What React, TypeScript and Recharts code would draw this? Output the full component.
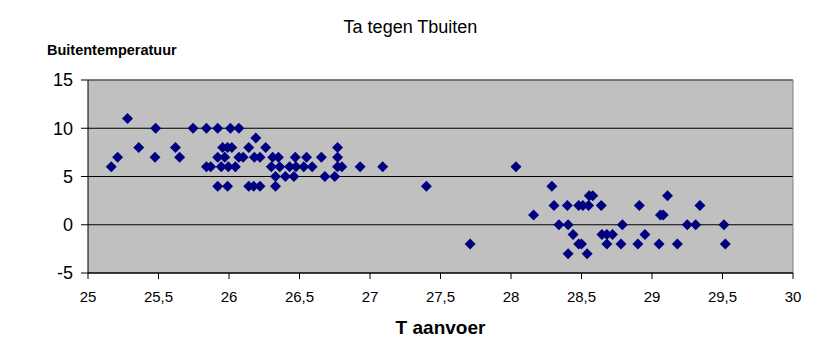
import React from 'react';
import { ScatterChart, Scatter, XAxis, YAxis, CartesianGrid, ReferenceLine } from 'recharts';

// T aanvoer (x) en buitentemperatuur (y)
const tAanvoer = [
  25.28,
  25.48, 25.745, 25.84, 25.92, 26.01, 26.07,
  26.19,
  25.36, 25.62, 25.955, 25.99, 26.02, 26.14, 26.26, 26.77,
  25.21, 25.475, 25.65, 25.92, 25.97, 26.07, 26.1, 26.18, 26.22, 26.31, 26.35, 26.47, 26.55, 26.655, 26.77,
  25.165, 25.84, 25.87, 25.945, 25.995, 26.045, 26.3, 26.36, 26.43, 26.475, 26.53, 26.59, 26.77, 26.8, 26.93, 27.09, 28.035,
  26.33, 26.4, 26.46, 26.68, 26.75,
  25.92, 25.99, 26.14, 26.175, 26.22, 26.33, 27.4, 28.29,
  28.555, 28.58, 29.11,
  28.305, 28.4, 28.48, 28.51, 28.55, 28.64, 28.91, 29.34,
  28.16, 29.06, 29.08,
  28.34, 28.405, 28.79, 29.25, 29.31, 29.51,
  28.44, 28.645, 28.68, 28.72, 28.95,
  27.71, 28.48, 28.5, 28.68, 28.78, 28.9, 29.05, 29.18, 29.52,
  28.405, 28.54,
];

const tBuiten = [
  11,
  10, 10, 10, 10, 10, 10,
  9,
  8, 8, 8, 8, 8, 8, 8, 8,
  7, 7, 7, 7, 7, 7, 7, 7, 7, 7, 7, 7, 7, 7, 7,
  6, 6, 6, 6, 6, 6, 6, 6, 6, 6, 6, 6, 6, 6, 6, 6, 6,
  5, 5, 5, 5, 5,
  4, 4, 4, 4, 4, 4, 4, 4,
  3, 3, 3,
  2, 2, 2, 2, 2, 2, 2, 2,
  1, 1, 1,
  0, 0, 0, 0, 0, 0,
  -1, -1, -1, -1, -1,
  -2, -2, -2, -2, -2, -2, -2, -2, -2,
  -3, -3,
];

const xTicks = [25, 25.5, 26, 26.5, 27, 27.5, 28, 28.5, 29, 29.5, 30];
const yTicks = [-5, 0, 5, 10, 15];

const data = tAanvoer.map((x, i) => ({ x, y: tBuiten[i] }));

const font = 'Arial, "Liberation Sans", sans-serif';

// ruitvormige marker zoals in Excel
const Diamond = (props: any) => {
  const { cx, cy } = props;
  const r = 5.5;
  return (
    <polygon
      points={`${cx},${cy - r} ${cx + r},${cy} ${cx},${cy + r} ${cx - r},${cy}`}
      fill="#000080"
    />
  );
};

const App = () => {
  return (
    <div style={{ position: 'absolute', left: 0, top: 0, width: 821, height: 347, background: '#fff', fontFamily: font }}>
      <div style={{ position: 'absolute', left: 0, top: 18, width: 821, textAlign: 'center', fontSize: 18, lineHeight: '18px' }}>
        Ta tegen Tbuiten
      </div>
      <div style={{ position: 'absolute', left: 47, top: 43, fontSize: 14.5, fontWeight: 'bold', lineHeight: '14px' }}>
        Buitentemperatuur
      </div>
      <div style={{ position: 'absolute', left: 88, top: 318, width: 705, textAlign: 'center', fontSize: 19, fontWeight: 'bold', lineHeight: '19px' }}>
        T aanvoer
      </div>

      <ScatterChart width={821} height={347} margin={{ top: 80, right: 28, bottom: 44, left: 0 }}>
        <CartesianGrid fill="#C0C0C0" vertical={false} stroke="#000" strokeWidth={1} />
        <XAxis
          type="number"
          dataKey="x"
          domain={[25, 30]}
          ticks={xTicks}
          interval={0}
          height={30}
          tickSize={6}
          tickMargin={12}
          tickFormatter={(v: number) => String(v).replace('.', ',')}
          tick={{ fill: '#000', fontSize: 15, fontFamily: font }}
          axisLine={{ stroke: '#000' }}
          tickLine={{ stroke: '#000' }}
        />
        <YAxis
          type="number"
          dataKey="y"
          domain={[-5, 15]}
          ticks={yTicks}
          interval={0}
          width={88}
          tickSize={7}
          tickMargin={8}
          tick={{ fill: '#000', fontSize: 18, fontFamily: font }}
          axisLine={{ stroke: '#000' }}
          tickLine={{ stroke: '#000' }}
        />
        <ReferenceLine y={15} stroke="#808080" />
        <ReferenceLine x={30} stroke="#808080" />
        <Scatter data={data} shape={Diamond} isAnimationActive={false} />
      </ScatterChart>
    </div>
  );
};

export default App;
